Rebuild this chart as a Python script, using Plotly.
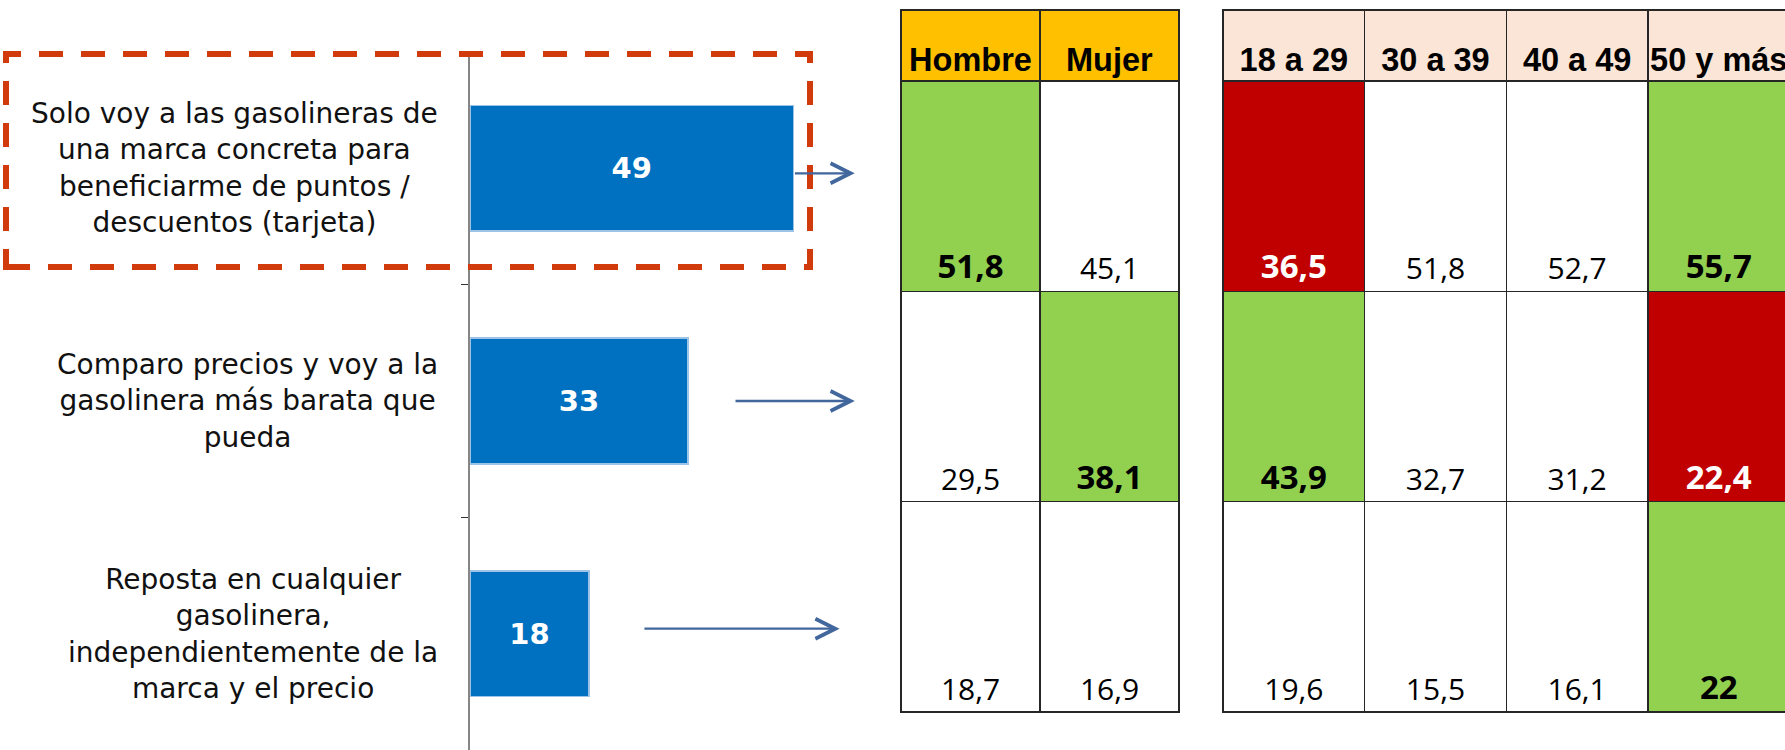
import plotly.graph_objects as go

# ---------------- data ----------------
statements = [
    "Solo voy a las gasolineras de<br>una marca concreta para<br>beneficiarme de puntos /<br>descuentos (tarjeta)",
    "Comparo precios y voy a la<br>gasolinera más barata que<br>pueda",
    "Reposta en cualquier<br>gasolinera,<br>independientemente de la<br>marca y el precio",
]
totals = [49, 33, 18]

gender_cols = ["Hombre", "Mujer"]
gender_vals = [[51.8, 45.1], [29.5, 38.1], [18.7, 16.9]]
gender_flags = [["high", "none"], ["none", "high"], ["none", "none"]]

age_cols = ["18 a 29", "30 a 39", "40 a 49", "50 y más"]
age_vals = [[36.5, 51.8, 52.7, 55.7], [43.9, 32.7, 31.2, 22.4], [19.6, 15.5, 16.1, 22]]
age_flags = [["low", "none", "none", "high"], ["high", "none", "none", "low"], ["none", "none", "none", "high"]]

# ---------------- layout constants ----------------
W, H = 1785, 750
BAR_COLOR = "#0070C0"
GREEN, RED, WHITE = "#92D050", "#C00000", "#FFFFFF"
BORDER = "#262626"
HEADER_H = 71 / 210.5
PAD = 0.01

def px_x(p):
    return p / W

def px_y(p):
    return 1 - p / H

def fmt(v):
    if float(v).is_integer():
        return str(int(v))
    return f"{v:.1f}".replace(".", ",")

fill_of = {"high": GREEN, "low": RED, "none": WHITE}

fig = go.Figure()

# ---------------- main bar chart ----------------
fig.add_trace(go.Bar(
    x=totals, y=statements, orientation="h",
    marker=dict(color=BAR_COLOR, line=dict(color="#9DC3E6", width=1.5)),
    texttemplate="<b>%{x}</b>", textposition="inside", insidetextanchor="middle",
    textangle=0, constraintext="none",
    textfont=dict(family="DejaVu Sans", size=29, color="white"),
    hoverinfo="skip", xaxis="x", yaxis="y",
))

# ---------------- tables as stacked cell columns ----------------
def add_table(cols, vals, flags, header_fill, xa, ya):
    nrows = len(vals)
    # bottom row first so the first statement sits on top
    for r in reversed(range(nrows)):
        texts, colors, fills, sizes = [], [], [], []
        for c in range(len(cols)):
            f = flags[r][c]
            t = fmt(vals[r][c])
            texts.append(f"<b>{t}</b>" if f != "none" else t)
            colors.append("white" if f == "low" else "black")
            fills.append(fill_of[f])
            sizes.append(33 if f != "none" else 30)
        fig.add_trace(go.Bar(
            x=cols, y=[1] * len(cols), width=1,
            marker=dict(color=fills, line=dict(color=BORDER, width=1.5)),
            text=texts, textposition="inside", insidetextanchor="start",
            textangle=0, constraintext="none",
            textfont=dict(family="Open Sans", size=sizes, color=colors),
            hoverinfo="skip", xaxis=xa, yaxis=ya,
        ))
    fig.add_trace(go.Bar(
        x=cols, y=[HEADER_H] * len(cols), width=1,
        marker=dict(color=header_fill, line=dict(color=BORDER, width=1.5)),
        text=[f"<b>{c}</b>" for c in cols], textposition="inside", insidetextanchor="start",
        textangle=0, constraintext="none",
        textfont=dict(family="Liberation Sans", size=32.5, color="black"),
        hoverinfo="skip", xaxis=xa, yaxis=ya,
    ))

add_table(gender_cols, gender_vals, gender_flags, "#FFC000", "x2", "y2")
add_table(age_cols, age_vals, age_flags, "#FBE5D6", "x3", "y3")

# ---------------- annotations ----------------
annotations = []
for s in statements:
    annotations.append(dict(
        x=px_x(440), xref="paper", xanchor="right",
        y=s, yref="y", yanchor="middle",
        text=s, showarrow=False, align="center",
        font=dict(family="DejaVu Sans", size=28, color="#111111"),
    ))

arrow_specs = [  # (tail, head, pixel shift)
    (totals[0], 58.3, -5),
    (40.0, 58.3, 0),
    (26.2, 56.0, 5),
]
for s, (tail, head, shift) in zip(statements, arrow_specs):
    annotations.append(dict(
        x=head, y=s, xref="x", yref="y",
        ax=tail, ay=s, axref="x", ayref="y",
        text="", showarrow=True, arrowhead=5, arrowsize=1.7,
        arrowwidth=2.3, arrowcolor="#41679C", standoff=0, yshift=shift,
    ))

# ---------------- dashed highlight box ----------------
shapes = [dict(
    type="rect", xref="paper", yref="paper",
    x0=px_x(6), x1=px_x(810), y0=px_y(267), y1=px_y(54),
    line=dict(color="#D13B0B", width=6, dash="24px,18px"),
    fillcolor="rgba(0,0,0,0)", layer="above",
)]

# ---------------- axes ----------------
x_per_unit = 6.6
x0_px = 470
fig.update_layout(
    width=W, height=H, autosize=False,
    margin=dict(l=0, r=0, t=0, b=0, pad=0),
    paper_bgcolor="white", plot_bgcolor="white",
    showlegend=False, barmode="stack", bargap=0.46,
    xaxis=dict(domain=[px_x(x0_px), px_x(x0_px + 60 * x_per_unit)], range=[0, 60],
               visible=False, fixedrange=True),
    yaxis=dict(domain=[0, px_y(52)], autorange="reversed", type="category",
               showline=True, linecolor="#868686", linewidth=1.5,
               ticks="outside", tickson="boundaries", ticklen=7, tickcolor="#333333",
               showticklabels=False, showgrid=False, zeroline=False, fixedrange=True),
    xaxis2=dict(domain=[px_x(901 - 1.4), px_x(1179 + 1.4)], range=[-0.5 - PAD, 1.5 + PAD],
                visible=False, anchor="y2"),
    yaxis2=dict(domain=[px_y(712 + 2.1), px_y(10 - 2.1)], range=[-PAD, 3 + HEADER_H + PAD],
                visible=False, anchor="x2"),
    xaxis3=dict(domain=[px_x(1223 - 1.4), 1.0], range=[-0.5 - PAD, -0.5 + (W - 1223 + 1.4) / 142],
                visible=False, anchor="y3"),
    yaxis3=dict(domain=[px_y(712 + 2.1), px_y(10 - 2.1)], range=[-PAD, 3 + HEADER_H + PAD],
                visible=False, anchor="x3"),
    annotations=annotations,
    shapes=shapes,
)

fig.write_html(
    "out.html",
    config={"displayModeBar": False},
    post_script="document.body.style.margin='0px';document.body.style.overflow='hidden';",
)
